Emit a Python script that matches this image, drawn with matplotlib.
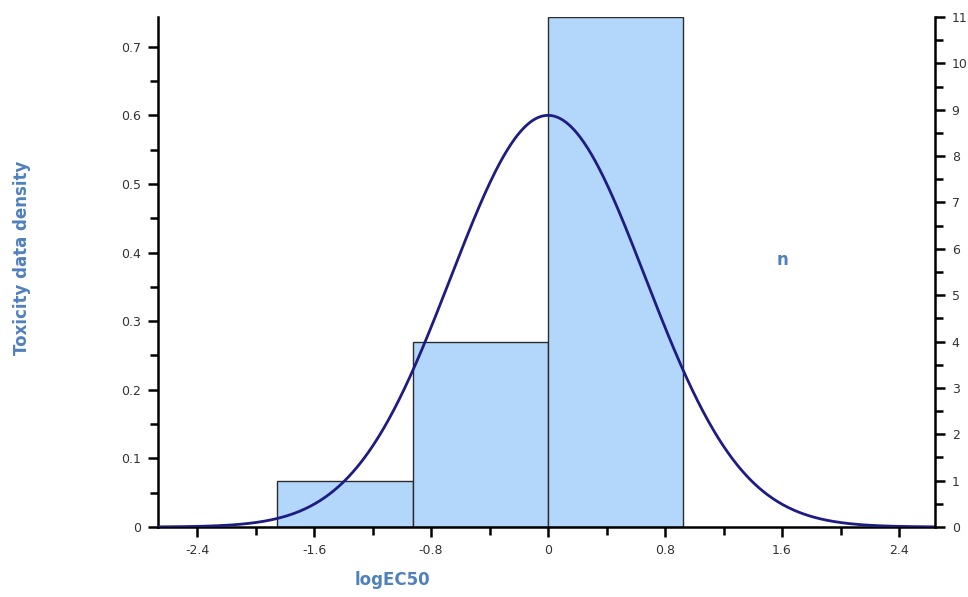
import numpy as np
import matplotlib
matplotlib.use("Agg")
import matplotlib.pyplot as plt
from matplotlib.ticker import MultipleLocator, FixedLocator

# ---- data ----
bin_edges = [-1.85, -0.925, 0.0, 0.925]
counts = [1, 4, 11]
n_total = 16
fit_mean = 0.0
fit_sd = 0.665
x_ticks = [-2.4, -1.6, -0.8, 0, 0.8, 1.6, 2.4]
x_tick_labels = ["-2.4", "-1.6", "-0.8", "0", "0.8", "1.6", "2.4"]
y_ticks = [0, 0.1, 0.2, 0.3, 0.4, 0.5, 0.6, 0.7]
n_ticks = list(range(0, 12))

label_color = "#4f81bd"
tick_color = "#333333"

fig = plt.figure(figsize=(9.68, 5.97), dpi=100)
ax = fig.add_axes([158/968, 1-527/597, (935-158)/968, (527-17)/597])

edges = np.array(bin_edges)
widths = np.diff(edges)
dens = np.array(counts) / (n_total * widths)
ax.bar(edges[:-1], dens, width=widths, align="edge", color="#b3d7fa",
       edgecolor="#2b2b2b", linewidth=1.0, zorder=2)

xmin, xmax = -2.667, 2.646
xs = np.linspace(xmin, xmax, 600)
pdf = np.exp(-(xs - fit_mean) ** 2 / (2 * fit_sd ** 2)) / (fit_sd * np.sqrt(2 * np.pi))
ax.plot(xs, pdf, color="#1c1c84", linewidth=2.0, zorder=3)

ax.set_xlim(xmin, xmax)
ymax = max(dens)
ax.set_ylim(0, ymax)

ax.xaxis.set_major_locator(FixedLocator(x_ticks))
ax.set_xticklabels(x_tick_labels)
ax.xaxis.set_minor_locator(MultipleLocator(0.4))
ax.yaxis.set_major_locator(FixedLocator(y_ticks))
ax.set_yticklabels([("0" if v == 0 else f"{v:.1f}") for v in y_ticks])
ax.yaxis.set_minor_locator(MultipleLocator(0.05))

ax2 = ax.twinx()
ax2.set_ylim(0, max(counts))
ax2.yaxis.set_major_locator(FixedLocator(n_ticks))
ax2.yaxis.set_minor_locator(MultipleLocator(0.5))

for a in (ax, ax2):
    a.spines["top"].set_visible(False)
    for s in ("left", "right", "bottom"):
        a.spines[s].set_linewidth(1.8)
        a.spines[s].set_color("black")
    a.tick_params(which="major", direction="out", length=7, width=1.8,
                  colors="black", labelcolor=tick_color, labelsize=9, pad=5)
    a.tick_params(which="minor", direction="out", length=5.5, width=1.8, colors="black")
ax.spines["right"].set_visible(False)
ax2.spines["left"].set_visible(False)
ax2.spines["bottom"].set_visible(False)

fig.text(22/968, 1-258/597, "Toxicity data density", rotation=90, ha="center", va="center",
         color=label_color, fontsize=12, fontweight="bold")
fig.text(392/968, 1-580/597, "logEC50", ha="center", va="center",
         color=label_color, fontsize=12, fontweight="bold")
fig.text(783/968, 1-260/597, "n", ha="center", va="center",
         color=label_color, fontsize=12, fontweight="bold")

fig.savefig("out.png", dpi=100)
